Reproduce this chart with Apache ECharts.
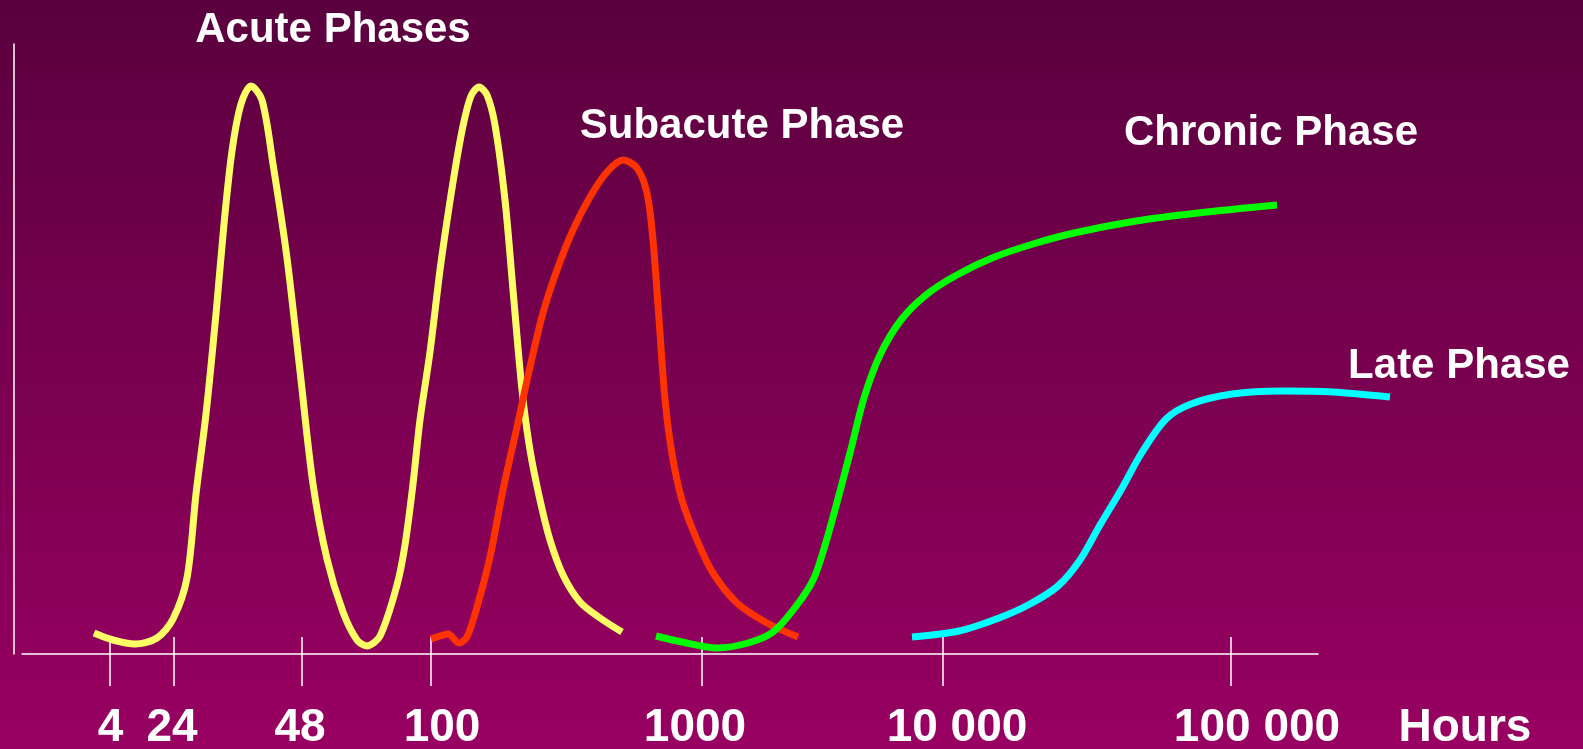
<!DOCTYPE html>
<html>
<head>
<meta charset="utf-8">
<script src="https://cdn.jsdelivr.net/npm/echarts@6/dist/echarts.min.js"></script>
<style>
  html, body { margin: 0; padding: 0; }
  #chart { width: 1583px; height: 749px; }
</style>
</head>
<body>
<div id="chart"></div>
<script>
// x runs in schematic position units along the time axis (not a true scale)
const xTicks = [8.8, 15.2, 28.0, 40.9, 68.0, 92.1, 120.9];
const xLabelPos = [8.85, 15.0, 27.8, 42.0, 67.3, 93.5, 123.5];
const xLabels = ['4', '24', '48', '100', '1000', '10 000', '100 000'];

const acute = [
  [7.2, 2.1], [9.1, 1.4], [11.3, 1.0], [13.5, 1.6], [15.1, 3.5], [16.5, 7.6], [17.4, 16.0],
  [18.4, 24.0], [19.4, 34.0], [20.2, 43.0], [21.0, 50.3], [21.9, 55.0], [22.9, 56.8],
  [24.0, 55.4], [25.1, 49.0], [26.5, 39.6], [27.8, 28.3], [29.1, 17.0], [30.5, 9.5],
  [32.1, 4.2], [33.5, 1.4], [34.5, 0.8], [35.8, 1.8], [37.5, 6.9], [38.3, 10.9],
  [39.1, 17.0], [39.8, 23.4], [40.8, 30.2], [41.8, 38.4], [42.5, 43.3], [43.3, 48.4],
  [44.1, 52.8], [44.9, 55.8], [45.7, 56.7], [46.5, 55.9], [47.3, 52.9], [48.3, 45.4],
  [49.1, 36.4], [50.0, 26.4], [50.8, 20.4], [51.8, 15.4], [52.8, 11.4], [54.1, 7.9],
  [55.8, 5.2], [57.8, 3.6], [60.0, 2.2]
];
const subacute = [
  [40.9, 1.5], [41.8, 1.8], [42.6, 2.0], [43.7, 1.1], [44.5, 1.7], [45.5, 4.7], [46.8, 9.7],
  [48.1, 16.4], [49.5, 22.7], [50.8, 28.7], [52.1, 34.1], [53.5, 38.4], [55.1, 42.4],
  [56.8, 45.7], [58.5, 48.2], [60.1, 49.4], [61.5, 48.6], [62.5, 46.1], [63.1, 41.4],
  [63.7, 33.5], [64.3, 25.5], [65.0, 20.0], [66.0, 15.4], [67.5, 11.4], [69.1, 8.1],
  [71.5, 5.1], [74.5, 3.1], [77.6, 1.7]
];
const chronic = [
  [63.4, 1.8], [66.0, 1.2], [69.5, 0.6], [72.6, 1.1], [75.1, 2.2], [77.5, 4.9], [79.2, 7.6],
  [80.4, 11.2], [81.7, 15.9], [82.9, 20.5], [84.2, 25.6], [85.8, 29.9], [87.9, 33.4],
  [90.4, 35.9], [93.3, 37.8], [97.0, 39.6], [101.1, 41.0], [105.2, 42.1], [111.4, 43.3],
  [117.6, 44.1], [125.5, 44.9]
];
const late = [
  [89.0, 1.7], [93.7, 2.3], [97.7, 3.6], [100.8, 5.0], [103.6, 6.8], [105.8, 9.4],
  [107.8, 12.9], [109.9, 16.4], [111.9, 20.0], [114.4, 23.5], [116.9, 25.0], [121.0, 26.0],
  [126.0, 26.3], [131.1, 26.2], [136.8, 25.7]
];

const chart = echarts.init(document.getElementById('chart'));

const white = '#ffffff';
const font = '"Liberation Sans", Arial, sans-serif';

const curve = (name, data, color) => ({
  name: name,
  type: 'line',
  xAxisIndex: 0,
  yAxisIndex: 0,
  data: data,
  smooth: 0.3,
  showSymbol: false,
  clip: false,
  silent: true,
  lineStyle: { color: color, width: 7, cap: 'butt' }
});

const label = (text, x, y, size) => ({
  type: 'text',
  x: x,
  y: y,
  silent: true,
  style: { text: text, fill: white, font: 'bold ' + size + 'px ' + font, align: 'center', verticalAlign: 'middle' }
});

const hidden = {
  axisLine: { show: false },
  axisTick: { show: false },
  axisLabel: { show: false },
  splitLine: { show: false }
};

chart.setOption({
  animation: false,
  backgroundColor: {
    type: 'linear', x: 0, y: 0, x2: 0, y2: 1,
    colorStops: [
      { offset: 0, color: '#5a003e' },
      { offset: 1, color: '#980061' }
    ]
  },
  // grid 0 holds the curves (the late phase runs past the axis end), grid 1 draws the axes
  grid: [
    { left: 22, right: 183, top: 44, bottom: 95, outerBoundsMode: 'none' },
    { left: 22, right: 265, top: 44, bottom: 95, outerBoundsMode: 'none' }
  ],
  xAxis: [
    Object.assign({ type: 'value', gridIndex: 0, min: 0, max: 137.8 }, hidden),
    {
      type: 'value', gridIndex: 1, min: 0, max: 129.6, position: 'bottom',
      axisLine: { show: true, onZero: false, lineStyle: { color: white, width: 1.5 } },
      axisTick: { show: false },
      splitLine: { show: false },
      axisLabel: {
        customValues: xLabelPos,
        margin: 74,
        verticalAlign: 'middle',
        color: white,
        fontSize: 46,
        fontWeight: 'bold',
        fontFamily: font,
        formatter: (v) => {
          let best = 0;
          xLabelPos.forEach((p, i) => { if (Math.abs(p - v) < Math.abs(xLabelPos[best] - v)) best = i; });
          return xLabels[best];
        }
      }
    },
    {
      // tick marks that cross the axis line
      type: 'value', gridIndex: 1, min: 0, max: 129.6, position: 'bottom', offset: -17,
      axisLine: { show: false, onZero: false },
      axisTick: { show: true, inside: false, length: 49, customValues: xTicks, lineStyle: { color: white, width: 1.5 } },
      axisLabel: { show: false },
      splitLine: { show: false }
    }
  ],
  yAxis: [
    Object.assign({ type: 'value', gridIndex: 0, min: 0, max: 61 }, hidden),
    {
      type: 'value', gridIndex: 1, min: 0, max: 61, offset: 8,
      axisLine: { show: true, onZero: false, lineStyle: { color: white, width: 1.5 } },
      axisTick: { show: false },
      axisLabel: { show: false },
      splitLine: { show: false }
    }
  ],
  graphic: [
    label('Acute Phases', 333, 30, 42),
    label('Subacute Phase', 742, 126, 42),
    label('Chronic Phase', 1271, 133, 42),
    label('Late Phase', 1459, 366, 42),
    label('Hours', 1465, 728, 46)
  ],
  series: [
    curve('Acute Phases', acute, '#ffff66'),
    curve('Subacute Phase', subacute, '#ff3300'),
    curve('Chronic Phase', chronic, '#00ff00'),
    curve('Late Phase', late, '#00ffff')
  ]
});
</script>
</body>
</html>
